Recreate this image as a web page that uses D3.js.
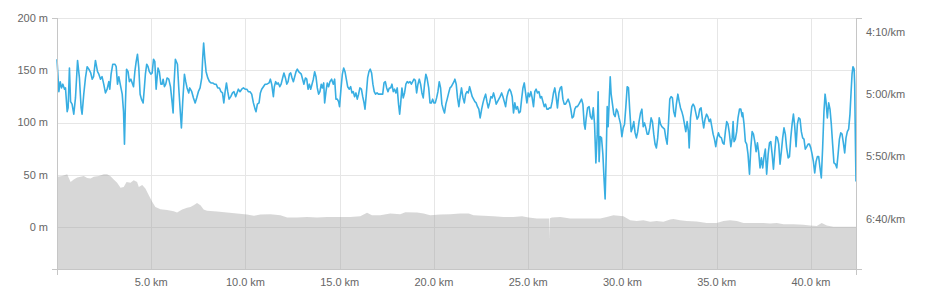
<!DOCTYPE html>
<html>
<head>
<meta charset="utf-8">
<script src="https://cdn.jsdelivr.net/npm/d3@7"></script>
<style>
  html, body { margin: 0; padding: 0; background: #fff; }
  svg { display: block; }
  text { font-family: "Liberation Sans", Arial, Helvetica, sans-serif; font-size: 11px; fill: #666; }
</style>
</head>
<body>
<svg id="chart" width="939" height="301"></svg>
<script>
// ---------- DATA ----------
const distTicks = [5, 10, 15, 20, 25, 30, 35, 40];          // km
const elevTicks = [0, 50, 100, 150, 200];                     // m
const paceTicks = [250, 300, 350, 400];                       // s per km (4:10, 5:00, 5:50, 6:40)

const totalDistance = 42.39;   // km
const elevMin = -40, elevMax = 200;
const paceFast = 239, paceSlow = 440;   // s/km

// pace series: distance (km) and pace (s/km)
const paceDist = [
0.00,0.10,0.17,0.24,0.31,0.40,0.45,0.54,0.59,0.66,0.72,0.80,0.89,0.98,1.09,1.19,1.28,1.33,1.42,1.51,
1.60,1.69,1.79,1.87,1.94,2.04,2.15,2.22,2.31,2.39,2.48,2.57,2.66,2.75,2.80,2.87,2.96,3.07,3.14,3.21,
3.28,3.38,3.46,3.53,3.58,3.63,3.69,3.77,3.84,3.92,3.99,4.06,4.13,4.20,4.27,4.34,4.41,4.48,4.57,4.64,
4.69,4.76,4.83,4.90,4.98,5.05,5.12,5.19,5.26,5.31,5.36,5.43,5.51,5.58,5.63,5.70,5.77,5.84,5.93,6.02,
6.11,6.16,6.21,6.28,6.39,6.46,6.55,6.60,6.67,6.76,6.83,6.90,6.99,7.04,
7.15,7.24,7.33,7.41,7.50,7.59,7.68,7.73,7.78,7.84,7.91,8.00,8.09,8.17,8.26,8.35,8.44,8.53,8.62,8.70,
8.78,8.85,8.92,8.99,9.06,9.13,9.22,9.31,9.39,9.48,9.55,9.62,9.71,9.80,9.89,9.98,10.07,10.15,10.24,10.33,
10.42,10.51,10.56,10.63,10.72,10.79,10.86,10.95,11.04,11.14,11.25,11.32,11.39,11.48,11.53,11.60,11.67,11.74,11.82,11.89,
11.97,12.04,12.12,12.19,12.26,12.33,12.40,12.47,12.54,12.61,12.68,12.75,12.82,12.89,12.96,13.03,13.10,13.18,13.25,13.32,
13.39,13.46,13.53,13.60,13.67,13.74,13.81,13.88,13.95,14.02,
14.08,14.15,14.20,14.27,14.34,14.41,14.48,14.57,14.66,14.73,14.80,14.87,14.94,14.99,15.07,15.14,15.21,15.28,15.35,15.42,
15.51,15.58,15.65,15.72,15.79,15.86,15.93,16.00,16.07,16.15,16.22,16.29,16.34,16.41,16.48,16.55,16.62,16.69,16.76,16.83,
16.90,16.98,17.05,17.12,17.21,17.28,17.35,17.42,17.49,17.56,17.63,17.70,17.77,17.84,17.91,17.98,18.05,18.12,18.18,18.23,
18.30,18.37,18.44,18.51,18.58,18.65,18.73,18.80,18.87,18.94,19.01,19.08,19.15,19.22,19.29,19.36,19.43,19.50,19.57,19.63,
19.72,19.79,19.86,19.93,20.00,20.07,20.14,20.21,20.28,20.35,20.42,20.49,20.56,20.63,20.70,20.78,20.85,20.92,20.99,21.06,
21.11,21.18,21.25,21.32,21.39,21.46,21.54,21.61,21.68,21.75,21.82,21.89,21.96,22.03,22.10,22.17,22.24,22.31,22.38,22.45,
22.53,22.60,22.67,22.74,22.81,22.88,22.95,23.02,23.09,23.16,23.23,23.30,23.37,23.44,23.51,23.59,23.66,23.73,23.80,23.87,
23.94,24.01,24.08,24.15,24.22,24.29,24.36,24.43,24.51,24.58,24.65,24.72,24.79,24.86,24.93,25.00,25.07,25.14,25.21,25.28,
25.35,25.42,25.49,25.57,25.64,25.71,25.78,25.85,25.92,25.99,26.06,26.13,26.20,26.27,26.34,26.41,26.48,26.55,26.63,26.70,
26.77,26.84,26.91,26.98,27.05,27.12,27.19,27.26,27.33,27.40,27.47,27.54,27.61,27.69,27.76,27.83,27.90,27.97,28.02,28.07,
28.15,
28.23,28.30,28.38,28.45,28.52,28.59,28.66,28.71,28.76,28.82,28.89,28.96,29.03,29.08,29.14,29.19,29.24,29.29,29.35,29.40,
29.47,29.54,29.61,29.68,29.75,29.82,29.90,29.97,30.04,30.11,30.18,30.25,30.32,30.39,30.46,30.53,30.60,30.67,30.74,30.81,
30.88,30.96,31.03,31.10,31.17,31.24,31.31,31.38,31.45,31.52,31.59,31.66,31.73,31.80,31.87,31.95,32.02,32.09,32.16,32.23,
32.30,32.37,32.44,32.51,32.58,32.65,32.72,32.79,32.86,32.94,33.01,33.08,33.15,33.22,33.29,33.36,33.43,33.50,33.54,33.61,
33.68,33.75,33.82,33.89,33.96,34.03,34.10,34.17,34.24,34.31,34.38,34.46,34.53,34.60,34.67,34.74,34.81,34.88,34.95,35.02,
35.09,35.16,
35.25,35.32,35.39,35.46,35.53,35.60,35.67,35.75,35.82,35.87,35.92,35.99,36.06,36.13,36.21,36.28,36.35,36.38,36.45,36.52,
36.59,36.66,36.74,36.81,36.88,36.95,37.02,37.09,37.16,37.23,37.30,37.37,37.44,37.51,37.58,37.65,37.73,37.80,37.87,37.94,
38.01,38.08,38.15,38.22,38.29,38.36,38.43,38.50,38.57,38.64,38.71,38.79,38.86,38.93,39.00,39.07,39.14,39.21,39.28,39.35,
39.42,39.49,39.56,39.63,39.70,39.78,39.85,39.92,39.99,40.06,40.13,40.20,40.27,40.34,40.41,40.48,40.55,40.62,40.69,40.75,
40.80,40.87,40.94,41.01,41.08,41.15,41.22,41.30,41.37,41.44,41.51,41.58,41.65,41.72,41.79,41.86,41.93,42.00,42.07,42.13,
42.18,42.23,42.29,42.32,42.36,42.39
];
const paceSec = [
272,298,290,295,292,296,295,314,311,279,306,308,316,303,273,287,311,316,300,287,
278,280,283,288,286,273,282,284,288,286,292,299,296,290,296,284,276,276,278,292,
286,294,300,314,340,308,280,282,290,288,291,294,282,274,268,279,300,304,307,294,
284,276,278,282,284,283,272,274,296,287,279,282,292,292,288,294,292,287,288,294,
307,315,292,272,276,295,316,327,306,284,290,295,299,295,
298,303,307,303,298,295,287,271,259,271,282,287,290,291,291,292,292,295,295,298,
299,307,298,291,298,304,302,299,298,302,299,296,298,296,295,296,296,298,298,300,
307,312,314,308,307,299,296,294,292,292,291,288,292,302,294,290,292,291,294,292,
287,283,287,292,290,284,283,287,290,286,282,280,282,283,284,288,292,287,288,296,
292,296,292,288,282,286,295,300,298,292,
295,291,307,298,291,294,290,288,292,288,304,304,306,310,295,284,279,282,288,294,
296,294,299,298,302,299,304,300,295,296,302,307,312,300,287,282,280,283,292,298,
300,299,300,300,300,300,291,290,295,298,295,295,292,298,296,299,295,308,316,308,
295,303,299,292,290,291,290,292,290,288,289,299,292,288,292,299,303,292,284,287,
295,307,307,304,307,307,303,298,290,295,308,312,315,308,304,299,295,294,292,290,
288,292,303,310,302,295,303,307,300,298,299,294,298,302,304,306,307,310,312,319,
312,307,303,300,306,311,307,302,303,299,303,308,306,304,302,299,302,306,310,302,
298,296,298,302,315,307,312,310,315,314,304,295,291,299,307,299,302,298,303,310,
298,296,299,298,303,302,306,310,308,312,312,311,311,306,299,295,302,311,299,295,
294,304,308,308,306,304,307,312,319,318,312,310,310,308,306,304,308,324,328,320,
311,
310,318,320,311,324,355,332,298,354,334,335,348,370,384,348,310,326,308,286,300,
308,316,318,312,314,319,324,334,327,324,310,294,295,314,330,327,322,331,335,330,
322,315,312,326,323,327,332,332,327,319,322,332,340,343,335,319,324,326,327,328,
335,340,324,304,302,303,314,318,308,300,306,311,314,318,324,330,322,330,343,319,
310,308,310,315,320,318,312,311,320,327,320,316,318,322,320,326,332,336,342,335,
331,334,
335,339,340,330,322,324,331,342,335,322,338,336,330,319,312,312,318,315,324,338,
340,348,364,343,330,332,338,346,339,347,359,351,359,350,344,364,348,339,338,348,
360,346,334,335,340,356,346,335,327,332,343,351,350,335,324,316,326,342,324,319,
320,330,335,336,344,342,340,340,343,348,354,363,354,350,350,359,367,343,314,300,
306,319,307,312,324,340,355,356,359,348,336,331,332,339,347,335,330,328,316,298,
284,278,280,292,340,370
];

// elevation series: distance (km) and altitude (m)
const elevDist = [
0.00,0.27,0.54,0.72,0.89,1.07,1.25,1.42,1.60,1.78,1.95,2.22,2.48,2.66,2.84,3.01,3.19,3.37,3.54,3.69,
3.90,4.07,4.25,4.34,4.52,4.69,4.87,5.05,5.22,5.49,5.84,6.19,6.37,6.64,6.90,7.08,7.25,7.43,7.61,7.78,
7.96,8.49,9.02,9.55,10.08,10.44,10.79,11.32,11.85,12.21,12.74,13.27,13.80,14.33,14.86,15.56,16.09,16.45,16.71,17.15,
17.68,18.21,18.48,19.10,19.45,19.80,20.33,20.86,21.39,21.84,22.10,22.63,23.16,23.69,24.22,24.67,25.02,25.46,25.99,26.11,
26.13,26.15,26.26,26.70,27.23,27.76,28.29,28.82,29.17,29.52,30.05,30.41,30.76,31.11,31.47,31.82,32.17,32.53,32.70,33.06,
33.41,33.94,34.47,35.00,35.36,35.71,36.07,36.42,36.95,37.48,37.83,38.19,38.54,39.07,39.60,39.95,40.31,40.57,40.84,41.19,
41.72,42.25,42.39
];
const elevM = [
48.1,49.0,50.7,43.3,45.6,47.5,48.1,49.0,47.1,46.5,48.1,49.0,50.7,50.7,48.8,45.6,42.4,37.6,38.5,43.3,
42.4,44.9,43.3,38.5,40.2,37.0,30.6,24.2,19.4,17.2,16.3,15.3,14.1,16.9,18.5,19.4,21.0,23.2,21.0,16.9,
15.6,15.0,14.1,13.1,12.1,10.8,12.1,12.4,11.5,9.3,9.3,9.8,9.3,9.8,9.8,9.8,10.5,13.7,11.5,11.5,
13.1,12.4,14.3,14.1,13.1,11.5,12.1,12.4,13.1,13.1,11.5,10.8,10.5,9.8,9.8,10.5,9.3,8.3,8.3,8.3,
-10.5,8.5,9.3,9.8,8.3,8.3,8.3,8.3,9.8,11.5,10.5,6.7,6.0,6.7,5.1,6.0,5.1,7.4,7.9,6.7,
6.0,5.4,4.1,4.1,6.0,6.7,6.0,4.1,4.1,4.1,3.5,4.1,2.9,2.9,2.2,1.6,1.0,4.1,1.6,0.3,
0.3,0.3,0.3
];

// ---------- CHART ----------
const svg = d3.select("#chart");
const plot = { left: 57, right: 856, top: 18, bottom: 269 };

const x = d3.scaleLinear().domain([0, totalDistance]).range([plot.left, plot.right]);
const yElev = d3.scaleLinear().domain([elevMin, elevMax]).range([plot.bottom, plot.top]);
const yPace = d3.scaleLinear().domain([paceFast, paceSlow]).range([plot.top, plot.bottom]);

const crisp = v => Math.round(v) + 0.5;
const gridColor = "#e6e6e6";
const axisColor = "#c6c6c6";

// grid lines
const grid = svg.append("g");
grid.selectAll("line.h").data(elevTicks).enter().append("line")
  .attr("x1", plot.left).attr("x2", plot.right)
  .attr("y1", d => crisp(yElev(d))).attr("y2", d => crisp(yElev(d)))
  .attr("stroke", gridColor).attr("stroke-width", 1);
grid.selectAll("line.v").data(distTicks).enter().append("line")
  .attr("x1", d => crisp(x(d))).attr("x2", d => crisp(x(d)))
  .attr("y1", plot.top).attr("y2", plot.bottom)
  .attr("stroke", gridColor).attr("stroke-width", 1);

// elevation area
const elevData = elevDist.map((d, i) => [d, elevM[i]]);
const area = d3.area()
  .x(d => x(d[0]))
  .y0(yElev(elevMin))
  .y1(d => yElev(d[1]));
svg.append("path").datum(elevData)
  .attr("d", area)
  .attr("fill", "#9c9c9c")
  .attr("fill-opacity", 0.4);

// pace line
const paceData = paceDist.map((d, i) => [d, paceSec[i]]);
const line = d3.line()
  .x(d => x(d[0]))
  .y(d => yPace(d[1]));
svg.append("path").datum(paceData)
  .attr("d", line)
  .attr("fill", "none")
  .attr("stroke", "#38aee2")
  .attr("stroke-width", 1.6)
  .attr("stroke-linejoin", "round");

// axis lines
const axes = svg.append("g").attr("stroke", axisColor).attr("stroke-width", 1);
axes.append("line").attr("x1", crisp(plot.left)).attr("x2", crisp(plot.left))
  .attr("y1", plot.top).attr("y2", plot.bottom + 6);
axes.append("line").attr("x1", crisp(plot.right)).attr("x2", crisp(plot.right))
  .attr("y1", plot.top).attr("y2", plot.bottom + 6);
axes.append("line").attr("x1", plot.left - 5).attr("x2", plot.right + 6)
  .attr("y1", crisp(plot.bottom)).attr("y2", crisp(plot.bottom));
// end ticks
[plot.top].forEach(yv => {
  axes.append("line").attr("x1", plot.left - 5).attr("x2", plot.left + 1)
    .attr("y1", crisp(yv)).attr("y2", crisp(yv));
  axes.append("line").attr("x1", plot.right).attr("x2", plot.right + 6)
    .attr("y1", crisp(yv)).attr("y2", crisp(yv));
});

// left axis labels
svg.append("g").selectAll("text").data(elevTicks).enter().append("text")
  .attr("x", 48).attr("y", d => yElev(d)).attr("dy", "0.35em")
  .attr("text-anchor", "end")
  .text(d => d + " m");

// right axis labels (pace)
const fmtPace = s => Math.floor(s / 60) + ":" + String(s % 60).padStart(2, "0") + "/km";
svg.append("g").selectAll("text").data(paceTicks).enter().append("text")
  .attr("x", 866).attr("y", d => yPace(d)).attr("dy", "0.35em")
  .attr("text-anchor", "start")
  .text(fmtPace);

// bottom axis labels
svg.append("g").selectAll("text").data(distTicks).enter().append("text")
  .attr("x", d => x(d)).attr("y", 286)
  .attr("text-anchor", "middle")
  .text(d => d3.format(".1f")(d) + " km");
</script>
</body>
</html>
